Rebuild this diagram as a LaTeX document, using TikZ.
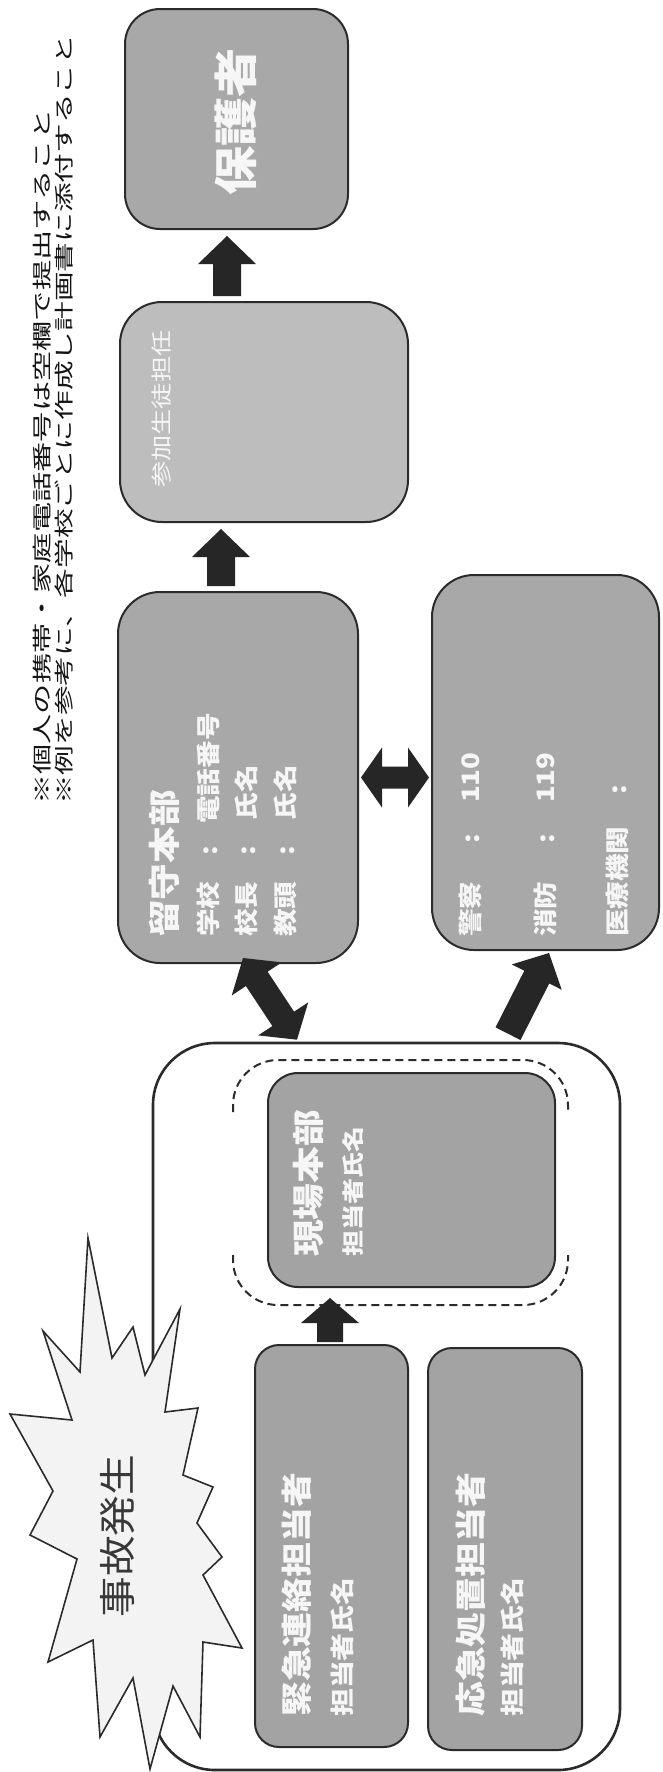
\documentclass[tikz,border=0pt]{standalone}
\usepackage{fontspec}
\usetikzlibrary{calc}
\newfontfamily\jp{Noto Sans CJK JP}
\definecolor{linec}{HTML}{2B2B2B}
\definecolor{arrowc}{HTML}{262626}
\definecolor{gA}{HTML}{A8A8A8}
\definecolor{gB}{HTML}{BDBDBD}
\definecolor{gC}{HTML}{A3A3A3}
\definecolor{burst}{HTML}{F3F3F3}
\definecolor{wtext}{HTML}{F6F6F6}
\definecolor{ntext}{HTML}{151515}
\definecolor{btext}{HTML}{383838}
\newcommand\fs[1]{\fontsize{#1pt}{#1pt}\selectfont}
\newcommand\sx[2]{\scalebox{#1}[1]{#2}}
% single fat arrow: tail, tip, shaft half width, head half width, head length
\newcommand\onearrow[5]{%
  \coordinate (tmpC) at ($(#2)!#5!(#1)$);
  \fill[arrowc] ($(#1)!#3!90:(#2)$) -- ($(tmpC)!#3!90:(#2)$) -- ($(tmpC)!#4!90:(#2)$) -- (#2)
    -- ($(tmpC)!#4!-90:(#2)$) -- ($(tmpC)!#3!-90:(#2)$) -- ($(#1)!#3!-90:(#2)$) -- cycle;}
% double fat arrow
\newcommand\twoarrow[5]{%
  \coordinate (tmpA) at ($(#1)!#5!(#2)$);
  \coordinate (tmpB) at ($(#2)!#5!(#1)$);
  \fill[arrowc] (#1) -- ($(tmpA)!#4!90:(#2)$) -- ($(tmpA)!#3!90:(#2)$) -- ($(tmpB)!#3!90:(#2)$)
    -- ($(tmpB)!#4!90:(#2)$) -- (#2) -- ($(tmpB)!#4!-90:(#2)$) -- ($(tmpB)!#3!-90:(#2)$)
    -- ($(tmpA)!#3!-90:(#2)$) -- ($(tmpA)!#4!-90:(#2)$) -- cycle;}
\begin{document}
\begin{tikzpicture}[x=1pt,y=-1pt,
  box/.style={draw=linec, line width=2pt, rounded corners=#1, inner sep=0pt},
  box/.default=40pt,
  vt/.style={rotate=90, inner sep=0pt, anchor=west, font=\jp},
  wt/.style={vt, text=wtext},
]
\fill[white] (0,0) rectangle (663,1772);
\useasboundingbox (0,0) rectangle (663,1772);

% notes
\node[vt, text=ntext, font=\jp\fs{19.5}] (note1) at (42,805) {\sx{1.55}{※個人の携帯・家庭電話番号は空欄で提出すること}};
\node[vt, text=ntext, font=\jp\fs{19.5}] (note2) at (64,805) {\sx{1.52}{※例を参考に、各学校ごとに作成し計画書に添付すること}};

% upper boxes
\node[box=35pt, fill=gA, minimum width=223pt, minimum height=220pt] (hogo) at (236.5,119) {};
\node[box=42pt, fill=gB, minimum width=288pt, minimum height=220pt] (sanka) at (264,412) {};
\node[box=42pt, fill=gA, minimum width=240pt, minimum height=371pt] (rusu) at (238,777.5) {};
\node[box=42pt, fill=gA, minimum width=227pt, minimum height=375pt] (keisatsu) at (545.5,762.5) {};

\node[wt, anchor=center, font=\jp\bfseries\fs{44}] (thogo) at (236,122) {\sx{1.12}{保護者}};
\node[wt, font=\jp\fs{21}] (tsanka) at (162,488) {\sx{1.25}{参加生徒担任}};

\node[wt, font=\jp\bfseries\fs{32}] (trusu) at (164,937) {\sx{1.15}{留守本部}};
\node[wt, font=\jp\bfseries\fs{24}] (trusu1) at (208,937) {\sx{1.15}{学校\hspace{23pt}:\hspace{19pt}電話番号}};
\node[wt, font=\jp\bfseries\fs{24}] (trusu2) at (246,937) {\sx{1.15}{校長\hspace{23pt}:\hspace{22pt}氏名}};
\node[wt, font=\jp\bfseries\fs{24}] (trusu3) at (285,937) {\sx{1.15}{教頭\hspace{23pt}:\hspace{22pt}氏名}};

\node[wt, font=\jp\bfseries\fs{24}] (tkei1) at (470,937) {\sx{1.15}{警察\hspace{33pt}:\hspace{27pt}110}};
\node[wt, font=\jp\bfseries\fs{24}] (tkei2) at (545,937) {\sx{1.15}{消防\hspace{33pt}:\hspace{27pt}119}};
\node[wt, font=\jp\bfseries\fs{24}] (tkei3) at (617,937) {\sx{1.15}{医療機関\hspace{28pt}:}};

% big frame
\node[box=62pt, draw=linec, line width=2.6pt, fill=white, minimum width=467pt, minimum height=727pt] (big) at (386.5,1406.5) {};
\draw[linec, line width=2pt, dash pattern=on 8pt off 5pt, rounded corners=45pt]
  (233,1112) -- (233,1060) -- (568,1060) -- (568,1112);
\draw[linec, line width=2pt, dash pattern=on 8pt off 5pt, rounded corners=45pt]
  (233,1255) -- (233,1305) -- (568,1305) -- (568,1255);

\node[box=30pt, fill=gC, minimum width=287pt, minimum height=214pt] (genba) at (411.5,1180) {};
\node[box=24pt, fill=gC, minimum width=153pt, minimum height=402pt] (kinkyu) at (331.5,1546) {};
\node[box=24pt, fill=gC, minimum width=154pt, minimum height=402pt] (oukyu) at (505,1549) {};

\node[wt, font=\jp\bfseries\fs{32}] (tgenba) at (308,1257) {\sx{1.15}{現場本部}};
\node[wt, font=\jp\bfseries\fs{22}] (tgenba2) at (353,1257) {\sx{1.18}{担当者氏名}};
\node[wt, font=\jp\bfseries\fs{31}] (tkin) at (297,1717) {\sx{1.125}{緊急連絡担当者}};
\node[wt, font=\jp\bfseries\fs{24}] (tkin2) at (342,1717) {\sx{1.16}{担当者氏名}};
\node[wt, font=\jp\bfseries\fs{31}] (touk) at (471,1717) {\sx{1.125}{応急処置担当者}};
\node[wt, font=\jp\bfseries\fs{24}] (touk2) at (512,1717) {\sx{1.16}{担当者氏名}};

% starburst
\draw[linec, line width=1.6pt, fill=burst, line join=miter]
  (88,1238) -- (112,1358) -- (133,1327) -- (145,1375) -- (180,1309) -- (165,1412)
  -- (198,1408) -- (183,1475) -- (213,1487) -- (197,1523) -- (222,1557) -- (203,1575)
  -- (242,1648) -- (203,1642) -- (200,1737) -- (173,1686) -- (150,1769) -- (133,1678)
  -- (100,1737) -- (93,1640) -- (48,1662) -- (77,1559) -- (30,1535) -- (53,1491)
  -- (10,1414) -- (72,1420) -- (43,1331) -- (80,1372) -- cycle;
\node[vt, anchor=center, text=btext, font=\jp\fs{37}] (tjiko) at (118,1536) {\sx{1.1}{事故発生}};

% arrows
\coordinate (a1s) at ($(sanka.north)+(-37,-5)$);
\coordinate (a1e) at ($(hogo.south)+(-9.5,6)$);
\onearrow{a1s}{a1e}{14pt}{29pt}{28pt}
\coordinate (a2s) at ($(rusu.north)+(-17,-5)$);
\coordinate (a2e) at ($(sanka.south)+(-43,6)$);
\onearrow{a2s}{a2e}{14pt}{29pt}{28pt}
\coordinate (a3s) at ($(rusu.east)+(2,0)$);
\coordinate (a3e) at ($(keisatsu.west)+(-2,15)$);
\twoarrow{a3s}{a3e}{11pt}{30pt}{21pt}
\coordinate (a4s) at ($(rusu.south)+(5,-6)$);
\coordinate (a4e) at ($(big.north)+(-89.5,-2)$);
\twoarrow{a4s}{a4e}{13pt}{30pt}{25pt}
\coordinate (a5s) at ($(big.north)+(121.5,-8)$);
\coordinate (a5e) at ($(keisatsu.south)+(3.5,2)$);
\onearrow{a5s}{a5e}{14pt}{28pt}{27pt}
\coordinate (a6s) at ($(kinkyu.north)+(-1.5,-2)$);
\coordinate (a6e) at ($(genba.south)+(-81.5,10)$);
\onearrow{a6s}{a6e}{13pt}{29pt}{25pt}
\end{tikzpicture}
\end{document}
